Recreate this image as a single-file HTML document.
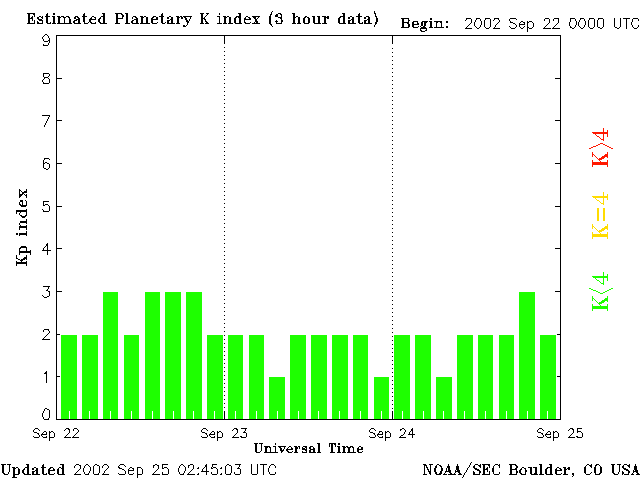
<!DOCTYPE html>
<html><head><meta charset="utf-8"><title>Estimated Planetary K index (3 hour data)</title>
<style>
html,body{margin:0;padding:0;background:#fff}
#chart{position:relative;width:640px;height:480px;overflow:hidden;background:#fff;font-family:"Liberation Sans",sans-serif}
#chart svg{display:block;position:absolute;left:0;top:0}
#chart span{position:absolute;white-space:nowrap;line-height:1;color:transparent;pointer-events:none;user-select:none}
#chart .s{font-family:"Liberation Sans",sans-serif}
#chart .t{font-family:"Liberation Serif",serif}
#chart .b{font-weight:bold}
#chart .v{transform-origin:0 0;transform:rotate(-90deg)}
</style>
</head><body><div id="chart"><svg width="640" height="480" viewBox="0 0 640 480" shape-rendering="crispEdges"><path fill="#000000" d="M272 11h1v1h-1zM374 11h1v2h-1zM271 12h1v2h-1zM27 13h8v1h-8zM47 13h1v1h-1zM53 13h2v2h-2zM84 13h1v1h-1zM102 13h3v1h-3zM115 13h7v1h-7zM125 13h3v1h-3zM162 13h1v1h-1zM200 13h4v1h-4zM206 13h3v1h-3zM219 13h1v2h-1zM238 13h3v1h-3zM278 13h3v1h-3zM292 13h3v1h-3zM342 13h3v1h-3zM359 13h1v1h-1zM374 13h2v1h-2zM28 14h2v4h-2zM33 14h2v1h-2zM46 14h2v2h-2zM83 14h2v2h-2zM103 14h2v2h-2zM116 14h2v4h-2zM121 14h2v1h-2zM126 14h2v9h-2zM161 14h2v2h-2zM201 14h2v4h-2zM207 14h1v1h-1zM239 14h2v2h-2zM270 14h2v1h-2zM276 14h2v1h-2zM280 14h2v1h-2zM293 14h2v3h-2zM343 14h2v2h-2zM358 14h2v2h-2zM375 14h1v2h-1zM34 15h1v2h-1zM122 15h2v2h-2zM206 15h1v1h-1zM270 15h1v1h-1zM275 15h3v2h-3zM281 15h1v2h-1zM32 16h1v1h-1zM39 16h2v1h-2zM42 16h1v1h-1zM45 16h5v1h-5zM52 16h3v1h-3zM57 16h3v1h-3zM61 16h3v1h-3zM66 16h3v1h-3zM75 16h3v1h-3zM82 16h5v1h-5zM92 16h2v1h-2zM101 16h4v1h-4zM133 16h3v1h-3zM140 16h3v1h-3zM144 16h2v1h-2zM153 16h3v1h-3zM159 16h5v1h-5zM169 16h2v1h-2zM176 16h3v1h-3zM180 16h2v1h-2zM183 16h9v1h-9zM205 16h1v1h-1zM217 16h3v1h-3zM223 16h3v1h-3zM227 16h2v1h-2zM236 16h5v1h-5zM246 16h2v1h-2zM252 16h8v1h-8zM269 16h2v8h-2zM296 16h2v1h-2zM305 16h2v1h-2zM312 16h3v1h-3zM317 16h3v1h-3zM322 16h4v1h-4zM327 16h2v1h-2zM340 16h5v1h-5zM350 16h2v1h-2zM356 16h6v1h-6zM366 16h3v1h-3zM375 16h2v1h-2zM31 17h2v1h-2zM37 17h2v2h-2zM41 17h2v1h-2zM46 17h2v6h-2zM53 17h2v6h-2zM58 17h3v1h-3zM63 17h3v1h-3zM68 17h2v1h-2zM74 17h2v2h-2zM77 17h2v1h-2zM83 17h2v5h-2zM91 17h1v1h-1zM94 17h2v1h-2zM100 17h1v1h-1zM103 17h2v6h-2zM122 17h1v1h-1zM132 17h1v2h-1zM135 17h2v1h-2zM141 17h3v1h-3zM146 17h2v6h-2zM152 17h2v1h-2zM156 17h2v2h-2zM161 17h2v6h-2zM167 17h2v2h-2zM171 17h2v2h-2zM177 17h3v1h-3zM181 17h2v2h-2zM184 17h2v1h-2zM190 17h1v2h-1zM204 17h1v1h-1zM219 17h1v6h-1zM224 17h3v1h-3zM229 17h2v6h-2zM235 17h2v1h-2zM238 17h3v1h-3zM245 17h1v1h-1zM248 17h2v1h-2zM253 17h3v1h-3zM258 17h1v1h-1zM278 17h4v1h-4zM293 17h3v1h-3zM298 17h2v6h-2zM304 17h2v1h-2zM307 17h2v1h-2zM313 17h2v6h-2zM318 17h2v6h-2zM324 17h5v1h-5zM339 17h2v1h-2zM343 17h2v6h-2zM348 17h2v2h-2zM352 17h2v2h-2zM358 17h2v6h-2zM364 17h2v2h-2zM368 17h2v2h-2zM376 17h1v1h-1zM28 18h5v1h-5zM42 18h1v1h-1zM58 18h2v5h-2zM64 18h1v5h-1zM69 18h1v1h-1zM78 18h2v1h-2zM90 18h2v1h-2zM95 18h1v1h-1zM99 18h2v1h-2zM116 18h7v1h-7zM136 18h2v1h-2zM141 18h2v5h-2zM151 18h2v1h-2zM177 18h2v5h-2zM185 18h2v2h-2zM201 18h4v1h-4zM224 18h2v5h-2zM234 18h2v5h-2zM239 18h2v5h-2zM244 18h2v1h-2zM249 18h2v1h-2zM254 18h2v1h-2zM257 18h1v1h-1zM280 18h2v1h-2zM293 18h2v5h-2zM303 18h2v5h-2zM308 18h2v5h-2zM324 18h2v5h-2zM327 18h2v1h-2zM338 18h2v5h-2zM376 18h2v4h-2zM401 18h8v1h-8zM430 18h2v2h-2zM466 18h5v1h-5zM476 18h4v1h-4zM485 18h5v1h-5zM494 18h5v1h-5zM510 18h6v1h-6zM545 18h4v1h-4zM554 18h5v1h-5zM570 18h5v1h-5zM580 18h4v1h-4zM589 18h5v1h-5zM598 18h5v1h-5zM614 18h1v9h-1zM620 18h1v9h-1zM623 18h7v1h-7zM633 18h5v1h-5zM28 19h2v4h-2zM32 19h1v2h-1zM38 19h4v1h-4zM69 19h2v4h-2zM76 19h4v1h-4zM89 19h7v1h-7zM98 19h2v3h-2zM116 19h2v4h-2zM134 19h4v1h-4zM151 19h7v1h-7zM170 19h3v1h-3zM189 19h1v2h-1zM201 19h2v4h-2zM204 19h2v1h-2zM244 19h7v1h-7zM255 19h2v2h-2zM281 19h1v1h-1zM351 19h3v1h-3zM367 19h3v1h-3zM402 19h2v3h-2zM408 19h1v1h-1zM466 19h1v1h-1zM471 19h1v4h-1zM476 19h1v1h-1zM480 19h1v2h-1zM485 19h1v1h-1zM490 19h1v8h-1zM494 19h1v1h-1zM498 19h1v1h-1zM509 19h1v2h-1zM516 19h1v1h-1zM544 19h1v2h-1zM549 19h1v4h-1zM553 19h1v2h-1zM558 19h1v4h-1zM570 19h1v3h-1zM575 19h1v2h-1zM580 19h1v1h-1zM584 19h1v2h-1zM589 19h1v1h-1zM594 19h1v8h-1zM598 19h1v1h-1zM603 19h1v8h-1zM626 19h1v10h-1zM632 19h1v3h-1zM638 19h1v2h-1zM34 20h1v3h-1zM39 20h4v1h-4zM74 20h3v1h-3zM78 20h2v3h-2zM89 20h2v2h-2zM132 20h2v1h-2zM136 20h2v3h-2zM151 20h2v3h-2zM167 20h3v1h-3zM171 20h2v3h-2zM186 20h2v1h-2zM205 20h1v1h-1zM244 20h1v2h-1zM276 20h1v1h-1zM281 20h2v2h-2zM348 20h3v1h-3zM352 20h2v3h-2zM364 20h3v1h-3zM368 20h2v3h-2zM408 20h2v1h-2zM465 20h1v1h-1zM475 20h1v2h-1zM484 20h1v7h-1zM493 20h1v1h-1zM499 20h1v2h-1zM579 20h1v2h-1zM588 20h1v7h-1zM597 20h1v7h-1zM37 21h1v1h-1zM42 21h1v2h-1zM73 21h2v2h-2zM131 21h2v2h-2zM167 21h2v2h-2zM186 21h3v1h-3zM205 21h2v1h-2zM255 21h3v1h-3zM275 21h3v1h-3zM348 21h2v2h-2zM364 21h2v2h-2zM408 21h1v1h-1zM413 21h5v1h-5zM422 21h6v1h-6zM429 21h3v1h-3zM434 21h8v1h-8zM446 21h2v2h-2zM481 21h1v4h-1zM510 21h1v1h-1zM521 21h2v1h-2zM527 21h1v1h-1zM529 21h3v1h-3zM576 21h1v4h-1zM585 21h1v4h-1zM37 22h2v1h-2zM50 22h1v1h-1zM84 22h1v1h-1zM88 22h1v1h-1zM90 22h2v1h-2zM95 22h1v1h-1zM99 22h2v1h-2zM157 22h1v1h-1zM165 22h1v1h-1zM187 22h2v1h-2zM206 22h2v1h-2zM244 22h2v1h-2zM250 22h1v1h-1zM254 22h1v1h-1zM256 22h2v1h-2zM276 22h1v1h-1zM281 22h1v1h-1zM362 22h1v1h-1zM375 22h2v2h-2zM402 22h7v1h-7zM412 22h2v2h-2zM417 22h1v1h-1zM421 22h2v4h-2zM424 22h3v1h-3zM430 22h2v5h-2zM436 22h2v1h-2zM440 22h2v1h-2zM474 22h1v4h-1zM498 22h1v1h-1zM510 22h3v1h-3zM520 22h1v1h-1zM523 22h2v1h-2zM527 22h2v1h-2zM532 22h1v1h-1zM569 22h1v4h-1zM578 22h1v4h-1zM631 22h1v3h-1zM27 23h8v1h-8zM37 23h6v1h-6zM47 23h4v1h-4zM52 23h4v1h-4zM57 23h15v1h-15zM74 23h7v1h-7zM84 23h4v1h-4zM91 23h5v1h-5zM100 23h7v1h-7zM115 23h5v1h-5zM125 23h5v1h-5zM132 23h7v1h-7zM140 23h10v1h-10zM152 23h5v1h-5zM162 23h3v1h-3zM167 23h8v1h-8zM176 23h4v1h-4zM187 23h1v2h-1zM200 23h4v1h-4zM205 23h4v1h-4zM217 23h5v1h-5zM223 23h4v1h-4zM228 23h5v1h-5zM235 23h7v1h-7zM245 23h5v1h-5zM252 23h8v1h-8zM276 23h6v1h-6zM292 23h4v1h-4zM297 23h4v1h-4zM304 23h5v1h-5zM314 23h7v1h-7zM322 23h5v1h-5zM339 23h7v1h-7zM348 23h8v1h-8zM359 23h4v1h-4zM364 23h8v1h-8zM402 23h2v4h-2zM407 23h2v1h-2zM417 23h2v1h-2zM424 23h2v3h-2zM436 23h1v4h-1zM441 23h1v4h-1zM470 23h1v1h-1zM497 23h1v1h-1zM513 23h2v1h-2zM519 23h1v1h-1zM524 23h1v1h-1zM527 23h1v4h-1zM533 23h1v4h-1zM548 23h1v1h-1zM557 23h1v1h-1zM270 24h2v1h-2zM375 24h1v1h-1zM408 24h2v3h-2zM412 24h7v1h-7zM469 24h1v1h-1zM496 24h1v1h-1zM515 24h1v1h-1zM519 24h6v1h-6zM547 24h1v1h-1zM556 24h1v1h-1zM183 25h2v1h-2zM186 25h1v1h-1zM271 25h1v1h-1zM374 25h1v2h-1zM412 25h2v2h-2zM468 25h1v1h-1zM480 25h1v2h-1zM495 25h1v2h-1zM516 25h1v2h-1zM519 25h1v2h-1zM546 25h1v1h-1zM555 25h1v1h-1zM575 25h1v2h-1zM584 25h1v2h-1zM632 25h1v2h-1zM638 25h1v2h-1zM183 26h3v1h-3zM272 26h1v1h-1zM418 26h1v1h-1zM420 26h1v1h-1zM423 26h2v1h-2zM446 26h2v2h-2zM467 26h1v1h-1zM475 26h1v1h-1zM509 26h1v1h-1zM524 26h1v1h-1zM545 26h1v1h-1zM554 26h1v1h-1zM570 26h1v1h-1zM579 26h1v1h-1zM401 27h8v1h-8zM413 27h5v1h-5zM421 27h5v1h-5zM429 27h4v1h-4zM434 27h10v1h-10zM466 27h1v1h-1zM476 27h1v1h-1zM479 27h1v1h-1zM485 27h1v1h-1zM489 27h1v1h-1zM494 27h1v1h-1zM510 27h1v1h-1zM515 27h1v1h-1zM520 27h1v1h-1zM523 27h1v1h-1zM527 27h2v1h-2zM532 27h1v1h-1zM544 27h1v1h-1zM553 27h1v1h-1zM570 27h2v1h-2zM574 27h1v1h-1zM580 27h1v1h-1zM583 27h1v1h-1zM589 27h1v1h-1zM593 27h1v1h-1zM598 27h2v1h-2zM602 27h1v1h-1zM615 27h2v1h-2zM619 27h1v1h-1zM633 27h1v1h-1zM637 27h1v1h-1zM420 28h7v1h-7zM465 28h7v1h-7zM477 28h2v1h-2zM486 28h3v1h-3zM493 28h7v1h-7zM511 28h4v1h-4zM521 28h2v1h-2zM527 28h1v4h-1zM529 28h3v1h-3zM543 28h8v1h-8zM552 28h8v1h-8zM572 28h2v1h-2zM581 28h2v1h-2zM590 28h3v1h-3zM600 28h2v1h-2zM617 28h2v1h-2zM634 28h3v1h-3zM420 29h1v1h-1zM426 29h1v1h-1zM420 30h2v1h-2zM425 30h2v1h-2zM421 31h4v1h-4zM45 34h2v1h-2zM44 35h1v1h-1zM47 35h1v1h-1zM56 35h505v1h-505zM43 36h1v1h-1zM48 36h1v2h-1zM56 36h1v42h-1zM224 36h1v8h-1zM392 36h1v8h-1zM560 36h1v42h-1zM42 37h1v2h-1zM49 38h1v2h-1zM43 39h1v2h-1zM48 40h2v1h-2zM44 41h4v1h-4zM49 41h1v2h-1zM48 43h1v2h-1zM43 44h1v1h-1zM43 45h5v1h-5zM224 47h1v1h-1zM392 48h1v1h-1zM224 51h1v1h-1zM392 52h1v1h-1zM224 55h1v1h-1zM392 56h1v1h-1zM224 59h1v1h-1zM392 60h1v1h-1zM224 63h1v1h-1zM392 64h1v1h-1zM224 67h1v1h-1zM392 68h1v1h-1zM224 71h1v1h-1zM392 72h1v1h-1zM43 73h6v1h-6zM43 74h1v3h-1zM49 74h1v2h-1zM224 75h1v1h-1zM48 76h1v1h-1zM392 76h1v1h-1zM44 77h4v1h-4zM44 78h1v1h-1zM48 78h1v1h-1zM56 78h6v1h-6zM555 78h6v1h-6zM43 79h1v1h-1zM49 79h1v4h-1zM56 79h1v41h-1zM224 79h1v1h-1zM560 79h1v41h-1zM42 80h1v2h-1zM392 80h1v1h-1zM43 82h1v1h-1zM43 83h6v1h-6zM224 83h1v1h-1zM392 84h1v1h-1zM224 87h1v1h-1zM392 88h1v1h-1zM224 91h1v1h-1zM392 92h1v1h-1zM224 95h1v1h-1zM392 96h1v1h-1zM224 99h1v1h-1zM392 100h1v1h-1zM224 103h1v1h-1zM392 104h1v1h-1zM224 107h1v1h-1zM392 108h1v1h-1zM224 111h1v1h-1zM392 112h1v1h-1zM42 115h8v1h-8zM224 115h1v1h-1zM49 116h1v1h-1zM392 116h1v1h-1zM48 117h1v2h-1zM47 119h1v2h-1zM224 119h1v1h-1zM56 120h6v1h-6zM392 120h1v1h-1zM555 120h6v1h-6zM46 121h1v2h-1zM56 121h1v42h-1zM560 121h1v42h-1zM45 123h1v2h-1zM224 123h1v1h-1zM392 124h1v1h-1zM44 125h1v2h-1zM224 127h1v1h-1zM392 128h1v1h-1zM224 131h1v1h-1zM392 132h1v1h-1zM224 135h1v1h-1zM392 136h1v1h-1zM224 139h1v1h-1zM392 140h1v1h-1zM224 143h1v1h-1zM392 144h1v1h-1zM224 147h1v1h-1zM392 148h1v1h-1zM224 151h1v1h-1zM392 152h1v1h-1zM224 155h1v1h-1zM392 156h1v1h-1zM44 158h5v1h-5zM44 159h1v1h-1zM49 159h1v1h-1zM224 159h1v1h-1zM43 160h1v3h-1zM392 160h1v1h-1zM45 162h2v1h-2zM43 163h2v1h-2zM47 163h2v1h-2zM56 163h6v1h-6zM224 163h1v1h-1zM555 163h6v1h-6zM43 164h1v4h-1zM49 164h1v4h-1zM56 164h1v42h-1zM392 164h1v1h-1zM560 164h1v42h-1zM224 167h1v1h-1zM44 168h2v1h-2zM48 168h1v1h-1zM392 168h1v1h-1zM46 169h2v1h-2zM224 171h1v1h-1zM392 172h1v1h-1zM224 175h1v1h-1zM392 176h1v1h-1zM224 179h1v1h-1zM392 180h1v1h-1zM224 183h1v1h-1zM392 184h1v1h-1zM224 187h1v1h-1zM392 188h1v1h-1zM19 189h1v1h-1zM26 189h1v2h-1zM19 190h2v1h-2zM19 191h1v3h-1zM21 191h1v1h-1zM24 191h3v1h-3zM224 191h1v1h-1zM22 192h5v1h-5zM392 192h1v1h-1zM22 193h2v1h-2zM19 194h4v1h-4zM24 194h1v1h-1zM26 194h1v1h-1zM19 195h3v1h-3zM25 195h2v1h-2zM224 195h1v1h-1zM19 196h2v1h-2zM26 196h1v2h-1zM392 196h1v1h-1zM19 197h1v1h-1zM224 199h1v1h-1zM20 200h3v2h-3zM25 200h1v1h-1zM392 200h1v1h-1zM26 201h1v4h-1zM43 201h6v1h-6zM19 202h1v2h-1zM22 202h1v3h-1zM43 202h1v3h-1zM224 203h1v1h-1zM19 204h2v1h-2zM45 204h3v1h-3zM392 204h1v1h-1zM20 205h7v1h-7zM43 205h2v1h-2zM48 205h1v1h-1zM21 206h5v1h-5zM49 206h1v5h-1zM56 206h6v1h-6zM555 206h6v1h-6zM56 207h1v41h-1zM224 207h1v1h-1zM560 207h1v41h-1zM392 208h1v1h-1zM26 209h1v1h-1zM42 209h1v1h-1zM16 210h11v2h-11zM43 210h1v1h-1zM43 211h6v1h-6zM224 211h1v1h-1zM16 212h1v2h-1zM20 212h1v1h-1zM26 212h1v3h-1zM392 212h1v1h-1zM19 213h1v2h-1zM20 215h2v1h-2zM25 215h2v1h-2zM224 215h1v1h-1zM21 216h5v1h-5zM392 216h1v1h-1zM22 217h3v1h-3zM26 219h1v2h-1zM224 219h1v1h-1zM392 220h1v1h-1zM20 221h7v2h-7zM19 223h1v2h-1zM26 223h1v1h-1zM224 223h1v1h-1zM392 224h1v1h-1zM20 225h1v1h-1zM26 225h1v1h-1zM19 226h8v2h-8zM224 227h1v1h-1zM19 228h1v2h-1zM26 228h1v2h-1zM392 228h1v1h-1zM26 231h1v2h-1zM224 231h1v1h-1zM392 232h1v1h-1zM16 233h2v2h-2zM19 233h8v2h-8zM19 235h1v1h-1zM26 235h1v1h-1zM224 235h1v1h-1zM392 236h1v1h-1zM224 239h1v1h-1zM392 240h1v1h-1zM47 243h1v1h-1zM224 243h1v1h-1zM46 244h2v2h-2zM392 244h1v1h-1zM21 246h5v1h-5zM45 246h1v1h-1zM47 246h1v4h-1zM20 247h7v1h-7zM44 247h1v1h-1zM224 247h1v1h-1zM19 248h2v1h-2zM26 248h1v3h-1zM43 248h1v2h-1zM56 248h6v1h-6zM392 248h1v1h-1zM555 248h6v1h-6zM19 249h1v2h-1zM56 249h1v42h-1zM560 249h1v42h-1zM30 250h1v1h-1zM42 250h9v1h-9zM19 251h12v2h-12zM47 251h1v4h-1zM224 251h1v1h-1zM392 252h1v1h-1zM19 253h1v2h-1zM30 253h1v2h-1zM16 255h1v3h-1zM26 255h1v2h-1zM224 255h1v1h-1zM392 256h1v1h-1zM24 257h3v1h-3zM16 258h2v1h-2zM23 258h4v1h-4zM18 259h2v1h-2zM21 259h4v1h-4zM26 259h1v1h-1zM224 259h1v1h-1zM20 260h3v1h-3zM392 260h1v1h-1zM16 261h1v1h-1zM21 261h1v1h-1zM26 261h1v1h-1zM16 262h11v2h-11zM224 263h1v1h-1zM16 264h1v2h-1zM26 264h1v2h-1zM392 264h1v1h-1zM224 267h1v1h-1zM392 268h1v1h-1zM224 271h1v1h-1zM392 272h1v1h-1zM224 275h1v1h-1zM392 276h1v1h-1zM224 279h1v1h-1zM392 280h1v1h-1zM224 283h1v1h-1zM392 284h1v1h-1zM43 286h7v1h-7zM48 287h1v2h-1zM224 287h1v1h-1zM392 288h1v1h-1zM47 289h1v1h-1zM46 290h2v1h-2zM48 291h2v1h-2zM56 291h6v1h-6zM224 291h1v1h-1zM555 291h6v1h-6zM49 292h1v4h-1zM56 292h1v42h-1zM392 292h1v1h-1zM560 292h1v42h-1zM42 295h1v1h-1zM224 295h1v1h-1zM43 296h1v1h-1zM47 296h2v1h-2zM392 296h1v1h-1zM44 297h3v1h-3zM224 299h1v1h-1zM392 300h1v1h-1zM224 303h1v1h-1zM392 304h1v1h-1zM224 307h1v1h-1zM392 308h1v1h-1zM224 311h1v1h-1zM392 312h1v1h-1zM224 315h1v1h-1zM392 316h1v1h-1zM224 319h1v1h-1zM392 320h1v1h-1zM224 323h1v1h-1zM392 324h1v1h-1zM224 327h1v1h-1zM392 328h1v1h-1zM44 329h5v1h-5zM43 330h1v2h-1zM48 330h1v1h-1zM49 331h1v2h-1zM224 331h1v1h-1zM392 332h1v1h-1zM48 333h1v1h-1zM47 334h1v1h-1zM56 334h4v1h-4zM557 334h4v1h-4zM46 335h1v1h-1zM56 335h1v41h-1zM224 335h1v1h-1zM560 335h1v41h-1zM45 336h1v1h-1zM392 336h1v1h-1zM44 337h1v1h-1zM43 338h1v1h-1zM42 339h8v1h-8zM224 339h1v1h-1zM392 340h1v1h-1zM224 343h1v1h-1zM392 344h1v1h-1zM224 347h1v1h-1zM392 348h1v1h-1zM224 351h1v1h-1zM392 352h1v1h-1zM224 355h1v1h-1zM392 356h1v1h-1zM224 359h1v1h-1zM392 360h1v1h-1zM224 363h1v1h-1zM392 364h1v1h-1zM224 367h1v1h-1zM392 368h1v1h-1zM46 371h1v1h-1zM224 371h1v1h-1zM45 372h2v1h-2zM392 372h1v1h-1zM44 373h3v1h-3zM46 374h1v9h-1zM224 375h1v1h-1zM56 376h4v1h-4zM392 376h1v1h-1zM557 376h4v1h-4zM56 377h1v42h-1zM560 377h1v42h-1zM224 379h1v1h-1zM392 380h1v1h-1zM224 383h1v1h-1zM392 384h1v1h-1zM224 387h1v1h-1zM392 388h1v1h-1zM224 391h1v1h-1zM392 392h1v1h-1zM224 395h1v1h-1zM392 396h1v1h-1zM224 399h1v1h-1zM392 400h1v1h-1zM224 403h1v1h-1zM392 404h1v1h-1zM224 407h1v1h-1zM45 408h2v1h-2zM392 408h1v1h-1zM44 409h1v2h-1zM47 409h2v1h-2zM49 410h1v8h-1zM43 411h1v2h-1zM224 411h1v8h-1zM392 411h1v8h-1zM42 413h1v4h-1zM43 417h1v2h-1zM48 418h1v1h-1zM44 419h5v1h-5zM56 419h505v1h-505zM35 428h3v1h-3zM66 428h3v1h-3zM74 428h3v1h-3zM203 428h3v1h-3zM234 428h3v1h-3zM241 428h6v1h-6zM371 428h3v1h-3zM402 428h2v1h-2zM412 428h1v1h-1zM539 428h3v1h-3zM570 428h3v1h-3zM577 428h5v1h-5zM34 429h1v1h-1zM38 429h1v1h-1zM65 429h1v1h-1zM68 429h2v1h-2zM73 429h1v2h-1zM77 429h1v1h-1zM202 429h1v1h-1zM206 429h1v1h-1zM233 429h1v1h-1zM236 429h2v1h-2zM245 429h1v2h-1zM370 429h1v1h-1zM374 429h1v1h-1zM400 429h2v1h-2zM404 429h1v1h-1zM411 429h2v2h-2zM538 429h1v1h-1zM542 429h1v1h-1zM569 429h1v1h-1zM572 429h2v1h-2zM577 429h1v2h-1zM33 430h1v2h-1zM39 430h1v1h-1zM64 430h1v1h-1zM69 430h1v3h-1zM78 430h1v2h-1zM201 430h1v2h-1zM207 430h1v1h-1zM232 430h1v1h-1zM237 430h1v3h-1zM369 430h1v2h-1zM375 430h1v1h-1zM400 430h1v1h-1zM405 430h1v2h-1zM537 430h1v2h-1zM543 430h1v1h-1zM568 430h1v1h-1zM573 430h1v3h-1zM44 431h2v1h-2zM49 431h1v1h-1zM51 431h2v1h-2zM212 431h2v1h-2zM217 431h1v1h-1zM219 431h2v1h-2zM244 431h1v1h-1zM379 431h3v1h-3zM385 431h1v1h-1zM387 431h2v1h-2zM410 431h1v1h-1zM412 431h1v3h-1zM548 431h2v1h-2zM553 431h1v1h-1zM555 431h2v1h-2zM577 431h4v1h-4zM34 432h3v1h-3zM43 432h1v1h-1zM46 432h1v2h-1zM49 432h2v1h-2zM53 432h1v1h-1zM77 432h1v1h-1zM202 432h3v1h-3zM211 432h1v1h-1zM214 432h1v2h-1zM217 432h2v1h-2zM221 432h1v1h-1zM243 432h3v1h-3zM370 432h3v1h-3zM379 432h1v1h-1zM382 432h1v2h-1zM385 432h2v1h-2zM389 432h1v1h-1zM404 432h1v2h-1zM409 432h1v2h-1zM538 432h3v1h-3zM547 432h1v1h-1zM550 432h1v2h-1zM553 432h2v1h-2zM557 432h1v1h-1zM577 432h1v1h-1zM581 432h1v1h-1zM37 433h2v1h-2zM42 433h1v1h-1zM49 433h1v4h-1zM54 433h1v4h-1zM68 433h1v1h-1zM76 433h1v1h-1zM205 433h2v1h-2zM210 433h1v1h-1zM217 433h1v4h-1zM222 433h1v4h-1zM236 433h1v1h-1zM246 433h1v4h-1zM373 433h2v1h-2zM378 433h1v1h-1zM385 433h1v4h-1zM390 433h1v4h-1zM541 433h2v1h-2zM546 433h1v1h-1zM553 433h1v4h-1zM558 433h1v4h-1zM572 433h1v1h-1zM582 433h1v4h-1zM38 434h1v1h-1zM41 434h6v1h-6zM67 434h1v1h-1zM75 434h1v1h-1zM206 434h1v1h-1zM209 434h6v1h-6zM235 434h1v1h-1zM374 434h1v1h-1zM377 434h6v1h-6zM403 434h1v1h-1zM408 434h7v1h-7zM542 434h1v1h-1zM545 434h6v1h-6zM571 434h1v1h-1zM39 435h1v2h-1zM41 435h1v1h-1zM66 435h1v1h-1zM74 435h1v1h-1zM207 435h1v2h-1zM209 435h1v1h-1zM234 435h1v1h-1zM375 435h1v2h-1zM377 435h1v1h-1zM401 435h2v1h-2zM412 435h1v3h-1zM543 435h1v2h-1zM545 435h1v1h-1zM570 435h1v1h-1zM33 436h1v1h-1zM42 436h1v1h-1zM46 436h1v1h-1zM65 436h1v1h-1zM73 436h1v1h-1zM201 436h1v1h-1zM210 436h1v1h-1zM214 436h1v1h-1zM233 436h1v1h-1zM240 436h2v1h-2zM369 436h1v1h-1zM378 436h1v1h-1zM382 436h1v1h-1zM400 436h1v1h-1zM537 436h1v1h-1zM546 436h1v1h-1zM550 436h1v1h-1zM569 436h1v1h-1zM576 436h2v1h-2zM34 437h5v1h-5zM43 437h4v1h-4zM49 437h5v1h-5zM64 437h7v1h-7zM72 437h7v1h-7zM202 437h5v1h-5zM211 437h4v1h-4zM217 437h5v1h-5zM232 437h7v1h-7zM241 437h5v1h-5zM370 437h5v1h-5zM379 437h4v1h-4zM385 437h5v1h-5zM399 437h7v1h-7zM538 437h5v1h-5zM547 437h4v1h-4zM553 437h5v1h-5zM568 437h7v1h-7zM577 437h5v1h-5zM49 438h1v3h-1zM217 438h1v3h-1zM385 438h1v3h-1zM553 438h1v3h-1zM254 443h4v1h-4zM259 443h4v1h-4zM275 443h1v2h-1zM317 443h3v1h-3zM329 443h7v1h-7zM338 443h2v2h-2zM255 444h2v8h-2zM261 444h1v7h-1zM318 444h2v8h-2zM329 444h1v3h-1zM331 444h2v8h-2zM334 444h2v1h-2zM335 445h1v2h-1zM264 446h6v1h-6zM273 446h3v1h-3zM278 446h8v1h-8zM289 446h2v1h-2zM294 446h3v1h-3zM298 446h2v1h-2zM303 446h4v1h-4zM310 446h3v1h-3zM337 446h3v1h-3zM342 446h3v1h-3zM346 446h2v1h-2zM350 446h3v1h-3zM359 446h2v1h-2zM265 447h3v1h-3zM269 447h2v1h-2zM275 447h1v5h-1zM279 447h2v1h-2zM284 447h1v2h-1zM288 447h1v1h-1zM291 447h1v1h-1zM295 447h3v2h-3zM299 447h1v2h-1zM302 447h1v1h-1zM305 447h2v1h-2zM309 447h2v2h-2zM313 447h1v1h-1zM338 447h2v5h-2zM343 447h3v1h-3zM347 447h4v1h-4zM352 447h2v1h-2zM358 447h1v1h-1zM361 447h2v2h-2zM265 448h2v4h-2zM270 448h1v4h-1zM280 448h2v2h-2zM287 448h1v1h-1zM291 448h2v1h-2zM302 448h3v1h-3zM306 448h1v1h-1zM313 448h2v1h-2zM343 448h2v4h-2zM348 448h2v4h-2zM353 448h1v4h-1zM357 448h2v1h-2zM283 449h1v1h-1zM286 449h7v1h-7zM295 449h2v3h-2zM302 449h5v1h-5zM310 449h5v1h-5zM357 449h6v1h-6zM280 450h4v1h-4zM286 450h2v1h-2zM305 450h2v1h-2zM309 450h2v2h-2zM313 450h2v2h-2zM357 450h2v2h-2zM260 451h1v1h-1zM281 451h2v1h-2zM287 451h2v1h-2zM292 451h1v1h-1zM302 451h1v1h-1zM306 451h1v1h-1zM362 451h1v1h-1zM256 452h4v1h-4zM264 452h14v1h-14zM281 452h1v1h-1zM288 452h4v1h-4zM294 452h4v1h-4zM302 452h5v1h-5zM309 452h7v1h-7zM317 452h4v1h-4zM330 452h5v1h-5zM337 452h4v1h-4zM342 452h4v1h-4zM347 452h9v1h-9zM358 452h4v1h-4zM471 462h1v1h-1zM470 463h1v2h-1zM1 464h5v1h-5zM7 464h4v1h-4zM26 464h3v1h-3zM43 464h1v1h-1zM60 464h4v1h-4zM76 464h3v1h-3zM86 464h2v1h-2zM95 464h2v1h-2zM104 464h3v1h-3zM120 464h4v1h-4zM155 464h2v1h-2zM162 464h6v1h-6zM181 464h2v1h-2zM190 464h3v1h-3zM206 464h1v1h-1zM212 464h5v1h-5zM227 464h2v1h-2zM235 464h6v1h-6zM251 464h1v10h-1zM257 464h1v10h-1zM260 464h7v1h-7zM271 464h3v1h-3zM423 464h3v1h-3zM429 464h4v1h-4zM437 464h2v1h-2zM448 464h1v2h-1zM457 464h1v2h-1zM475 464h3v1h-3zM480 464h1v1h-1zM482 464h8v1h-8zM495 464h3v1h-3zM499 464h1v1h-1zM509 464h7v1h-7zM539 464h3v1h-3zM549 464h3v1h-3zM587 464h2v1h-2zM591 464h1v1h-1zM596 464h3v1h-3zM611 464h4v1h-4zM617 464h4v1h-4zM624 464h3v1h-3zM629 464h1v1h-1zM635 464h1v2h-1zM2 465h2v8h-2zM9 465h1v7h-1zM27 465h2v2h-2zM42 465h2v2h-2zM62 465h2v3h-2zM75 465h1v1h-1zM79 465h2v1h-2zM85 465h1v1h-1zM88 465h1v1h-1zM94 465h1v1h-1zM97 465h2v1h-2zM103 465h1v1h-1zM107 465h1v1h-1zM119 465h1v1h-1zM124 465h1v1h-1zM153 465h2v1h-2zM157 465h2v1h-2zM162 465h1v3h-1zM180 465h1v1h-1zM183 465h1v1h-1zM188 465h2v1h-2zM193 465h1v4h-1zM205 465h2v2h-2zM212 465h1v2h-1zM226 465h1v1h-1zM229 465h2v1h-2zM239 465h1v2h-1zM263 465h1v10h-1zM270 465h1v1h-1zM274 465h1v1h-1zM424 465h3v1h-3zM430 465h1v6h-1zM436 465h1v1h-1zM439 465h2v1h-2zM469 465h1v2h-1zM474 465h1v1h-1zM478 465h3v1h-3zM483 465h2v4h-2zM488 465h2v1h-2zM494 465h1v1h-1zM498 465h2v1h-2zM510 465h2v4h-2zM515 465h2v1h-2zM540 465h2v9h-2zM550 465h2v2h-2zM586 465h1v1h-1zM589 465h3v1h-3zM595 465h2v1h-2zM599 465h1v1h-1zM612 465h2v8h-2zM619 465h1v7h-1zM623 465h1v1h-1zM627 465h3v1h-3zM74 466h1v2h-1zM80 466h1v3h-1zM84 466h1v2h-1zM89 466h1v1h-1zM93 466h1v8h-1zM99 466h1v7h-1zM102 466h1v2h-1zM108 466h1v2h-1zM118 466h1v1h-1zM125 466h1v1h-1zM153 466h1v2h-1zM158 466h1v3h-1zM179 466h1v2h-1zM184 466h1v1h-1zM188 466h1v2h-1zM225 466h1v8h-1zM231 466h1v7h-1zM269 466h1v2h-1zM275 466h1v2h-1zM424 466h1v8h-1zM426 466h1v1h-1zM435 466h2v2h-2zM440 466h2v1h-2zM447 466h3v2h-3zM456 466h3v4h-3zM473 466h2v2h-2zM479 466h2v1h-2zM489 466h1v2h-1zM493 466h1v2h-1zM499 466h1v2h-1zM516 466h2v2h-2zM585 466h1v1h-1zM590 466h2v1h-2zM595 466h1v1h-1zM600 466h1v1h-1zM622 466h2v2h-2zM628 466h2v1h-2zM634 466h3v4h-3zM12 467h3v1h-3zM16 467h2v1h-2zM25 467h4v1h-4zM34 467h2v1h-2zM41 467h5v1h-5zM50 467h3v1h-3zM59 467h2v1h-2zM90 467h1v4h-1zM118 467h2v1h-2zM130 467h2v1h-2zM137 467h4v1h-4zM164 467h3v1h-3zM185 467h1v4h-1zM198 467h1v1h-1zM204 467h1v1h-1zM206 467h1v4h-1zM211 467h1v1h-1zM213 467h3v1h-3zM221 467h1v1h-1zM238 467h1v1h-1zM426 467h2v1h-2zM441 467h1v1h-1zM468 467h1v1h-1zM480 467h1v1h-1zM487 467h1v1h-1zM522 467h2v1h-2zM528 467h4v1h-4zM533 467h4v1h-4zM547 467h5v1h-5zM557 467h2v1h-2zM563 467h3v1h-3zM568 467h2v1h-2zM584 467h2v6h-2zM591 467h1v1h-1zM594 467h2v6h-2zM600 467h2v6h-2zM629 467h1v1h-1zM13 468h3v1h-3zM18 468h1v1h-1zM24 468h1v1h-1zM27 468h2v6h-2zM32 468h2v2h-2zM36 468h2v2h-2zM42 468h2v6h-2zM49 468h2v1h-2zM53 468h1v1h-1zM58 468h1v1h-1zM61 468h3v1h-3zM83 468h1v4h-1zM107 468h1v1h-1zM119 468h3v1h-3zM129 468h1v1h-1zM132 468h2v1h-2zM137 468h1v6h-1zM141 468h1v1h-1zM162 468h2v1h-2zM167 468h1v1h-1zM178 468h1v4h-1zM197 468h2v1h-2zM203 468h1v1h-1zM211 468h2v1h-2zM216 468h1v1h-1zM220 468h2v1h-2zM237 468h3v1h-3zM268 468h1v4h-1zM427 468h1v1h-1zM434 468h2v4h-2zM441 468h2v3h-2zM446 468h1v3h-1zM448 468h2v2h-2zM467 468h1v2h-1zM474 468h3v1h-3zM486 468h2v1h-2zM492 468h2v4h-2zM515 468h2v1h-2zM521 468h1v1h-1zM524 468h2v1h-2zM530 468h2v6h-2zM535 468h2v5h-2zM546 468h2v1h-2zM550 468h2v6h-2zM556 468h1v1h-1zM559 468h2v1h-2zM564 468h2v1h-2zM567 468h3v1h-3zM623 468h3v1h-3zM13 469h2v5h-2zM18 469h2v5h-2zM23 469h2v1h-2zM48 469h2v1h-2zM53 469h2v1h-2zM57 469h2v5h-2zM62 469h2v5h-2zM79 469h1v1h-1zM106 469h1v1h-1zM122 469h2v1h-2zM128 469h1v1h-1zM133 469h1v1h-1zM142 469h1v5h-1zM157 469h1v1h-1zM168 469h1v5h-1zM192 469h1v1h-1zM202 469h1v2h-1zM217 469h1v5h-1zM240 469h1v5h-1zM427 469h2v1h-2zM475 469h4v1h-4zM483 469h5v1h-5zM510 469h7v1h-7zM520 469h2v1h-2zM525 469h1v1h-1zM545 469h2v5h-2zM555 469h2v1h-2zM560 469h2v1h-2zM564 469h3v1h-3zM568 469h2v1h-2zM624 469h4v1h-4zM22 470h2v3h-2zM35 470h3v1h-3zM48 470h7v1h-7zM78 470h1v1h-1zM105 470h1v1h-1zM124 470h1v1h-1zM128 470h6v1h-6zM156 470h1v1h-1zM191 470h1v1h-1zM428 470h1v1h-1zM448 470h3v1h-3zM455 470h1v1h-1zM457 470h3v1h-3zM466 470h1v2h-1zM477 470h3v1h-3zM483 470h2v4h-2zM487 470h1v2h-1zM510 470h2v4h-2zM516 470h1v1h-1zM519 470h2v3h-2zM525 470h2v2h-2zM555 470h7v1h-7zM564 470h2v4h-2zM626 470h3v1h-3zM633 470h1v1h-1zM635 470h3v1h-3zM32 471h3v1h-3zM36 471h2v3h-2zM48 471h2v3h-2zM77 471h1v1h-1zM89 471h1v2h-1zM104 471h1v2h-1zM125 471h1v3h-1zM128 471h1v3h-1zM155 471h1v1h-1zM184 471h1v2h-1zM190 471h1v1h-1zM201 471h8v1h-8zM428 471h3v1h-3zM440 471h2v2h-2zM445 471h6v1h-6zM455 471h5v1h-5zM473 471h1v1h-1zM479 471h2v2h-2zM489 471h1v3h-1zM516 471h2v2h-2zM555 471h2v3h-2zM622 471h1v1h-1zM628 471h2v2h-2zM633 471h5v1h-5zM8 472h1v2h-1zM32 472h2v2h-2zM76 472h1v1h-1zM84 472h1v2h-1zM154 472h1v1h-1zM162 472h1v2h-1zM179 472h1v2h-1zM189 472h1v1h-1zM206 472h1v3h-1zM211 472h1v2h-1zM234 472h1v2h-1zM269 472h1v2h-1zM275 472h1v2h-1zM429 472h2v2h-2zM435 472h2v2h-2zM445 472h1v1h-1zM449 472h2v1h-2zM455 472h1v1h-1zM458 472h2v1h-2zM465 472h1v1h-1zM473 472h2v2h-2zM493 472h1v2h-1zM499 472h1v2h-1zM525 472h1v2h-1zM591 472h1v1h-1zM618 472h1v2h-1zM622 472h2v2h-2zM633 472h1v1h-1zM636 472h2v1h-2zM3 473h2v1h-2zM23 473h2v1h-2zM46 473h1v1h-1zM54 473h1v1h-1zM75 473h1v1h-1zM88 473h1v1h-1zM98 473h1v1h-1zM103 473h1v1h-1zM118 473h1v1h-1zM133 473h1v1h-1zM153 473h1v1h-1zM183 473h1v1h-1zM188 473h1v1h-1zM198 473h1v1h-1zM221 473h1v1h-1zM230 473h1v1h-1zM439 473h3v1h-3zM444 473h1v1h-1zM450 473h2v1h-2zM454 473h1v1h-1zM459 473h2v1h-2zM464 473h1v2h-1zM479 473h1v1h-1zM516 473h1v1h-1zM520 473h2v1h-2zM534 473h3v1h-3zM561 473h1v1h-1zM572 473h2v2h-2zM585 473h1v1h-1zM590 473h1v1h-1zM595 473h1v1h-1zM599 473h2v1h-2zM613 473h2v1h-2zM628 473h1v1h-1zM632 473h1v1h-1zM637 473h2v1h-2zM4 474h4v1h-4zM13 474h6v1h-6zM24 474h7v1h-7zM32 474h8v1h-8zM43 474h4v1h-4zM49 474h5v1h-5zM58 474h7v1h-7zM74 474h7v1h-7zM85 474h4v1h-4zM94 474h5v1h-5zM102 474h7v1h-7zM119 474h6v1h-6zM129 474h4v1h-4zM137 474h5v1h-5zM152 474h8v1h-8zM162 474h6v1h-6zM180 474h4v1h-4zM187 474h8v1h-8zM197 474h2v1h-2zM212 474h5v1h-5zM220 474h2v1h-2zM226 474h5v1h-5zM235 474h5v1h-5zM252 474h5v1h-5zM270 474h5v1h-5zM423 474h4v1h-4zM430 474h1v1h-1zM436 474h5v1h-5zM443 474h4v1h-4zM448 474h8v1h-8zM458 474h4v1h-4zM473 474h7v1h-7zM482 474h8v1h-8zM494 474h5v1h-5zM509 474h8v1h-8zM521 474h5v1h-5zM531 474h7v1h-7zM539 474h5v1h-5zM546 474h7v1h-7zM556 474h5v1h-5zM563 474h5v1h-5zM586 474h4v1h-4zM595 474h5v1h-5zM614 474h4v1h-4zM622 474h1v1h-1zM624 474h5v1h-5zM631 474h3v1h-3zM636 474h4v1h-4zM13 475h2v2h-2zM137 475h1v3h-1zM463 475h1v2h-1zM573 475h1v1h-1zM572 476h1v1h-1zM12 477h5v1h-5zM462 477h1v1h-1z"/><path fill="#1eff00" d="M603 272h1v4h-1zM607 274h1v2h-1zM592 276h16v1h-16zM593 277h15v1h-15zM595 278h1v1h-1zM603 278h1v5h-1zM607 278h1v3h-1zM596 279h1v1h-1zM597 280h2v1h-2zM599 281h1v1h-1zM600 282h1v1h-1zM601 283h3v1h-3zM603 284h1v1h-1zM589 288h2v1h-2zM611 288h2v1h-2zM591 289h2v1h-2zM609 289h2v1h-2zM593 290h3v1h-3zM607 290h2v1h-2zM596 291h2v1h-2zM605 291h2v1h-2zM103 292h15v119h-15zM145 292h15v119h-15zM165 292h16v119h-16zM186 292h16v119h-16zM519 292h16v119h-16zM598 292h2v1h-2zM603 292h2v1h-2zM600 293h3v1h-3zM592 296h1v2h-1zM607 296h1v2h-1zM592 298h2v1h-2zM605 298h3v1h-3zM592 299h1v2h-1zM594 299h1v1h-1zM604 299h4v1h-4zM595 300h1v1h-1zM602 300h6v1h-6zM596 301h1v1h-1zM601 301h4v1h-4zM607 301h1v1h-1zM597 302h1v1h-1zM599 302h5v1h-5zM598 303h4v1h-4zM592 304h1v2h-1zM599 304h1v1h-1zM607 304h1v2h-1zM600 305h1v1h-1zM592 306h16v3h-16zM592 309h1v2h-1zM607 309h1v2h-1zM61 335h16v76h-16zM82 335h16v76h-16zM124 335h15v76h-15zM207 335h16v76h-16zM228 335h15v76h-15zM249 335h15v76h-15zM290 335h16v76h-16zM311 335h16v76h-16zM332 335h16v76h-16zM353 335h15v76h-15zM394 335h16v76h-16zM415 335h16v76h-16zM457 335h16v76h-16zM478 335h15v76h-15zM499 335h15v76h-15zM540 335h16v76h-16zM269 377h16v34h-16zM374 377h15v34h-15zM436 377h16v34h-16zM61 411h8v8h-8zM70 411h7v8h-7zM82 411h7v8h-7zM90 411h8v8h-8zM103 411h7v8h-7zM111 411h7v8h-7zM124 411h7v8h-7zM132 411h7v8h-7zM145 411h7v8h-7zM153 411h7v8h-7zM165 411h8v8h-8zM174 411h7v8h-7zM186 411h7v8h-7zM194 411h8v8h-8zM207 411h7v8h-7zM215 411h8v8h-8zM228 411h7v8h-7zM236 411h7v8h-7zM249 411h7v8h-7zM257 411h7v8h-7zM269 411h8v8h-8zM278 411h7v8h-7zM290 411h8v8h-8zM299 411h7v8h-7zM311 411h7v8h-7zM319 411h8v8h-8zM332 411h7v8h-7zM340 411h8v8h-8zM353 411h7v8h-7zM361 411h7v8h-7zM374 411h7v8h-7zM382 411h7v8h-7zM394 411h8v8h-8zM403 411h7v8h-7zM415 411h8v8h-8zM424 411h7v8h-7zM436 411h7v8h-7zM444 411h8v8h-8zM457 411h7v8h-7zM465 411h8v8h-8zM478 411h7v8h-7zM486 411h7v8h-7zM499 411h7v8h-7zM507 411h7v8h-7zM519 411h8v8h-8zM528 411h7v8h-7zM540 411h7v8h-7zM548 411h8v8h-8z"/><path fill="#ff1800" d="M603 128h1v4h-1zM607 130h1v2h-1zM592 132h16v1h-16zM593 133h15v1h-15zM595 134h1v1h-1zM603 134h1v5h-1zM607 134h1v3h-1zM596 135h1v1h-1zM597 136h2v1h-2zM599 137h1v1h-1zM600 138h1v1h-1zM601 139h3v1h-3zM603 140h1v1h-1zM600 143h3v1h-3zM598 144h2v1h-2zM603 144h2v1h-2zM596 145h2v1h-2zM605 145h2v1h-2zM593 146h3v1h-3zM607 146h2v1h-2zM591 147h2v1h-2zM609 147h2v1h-2zM589 148h2v1h-2zM611 148h2v1h-2zM592 152h1v2h-1zM607 152h1v2h-1zM592 154h2v1h-2zM605 154h3v1h-3zM592 155h1v2h-1zM594 155h1v1h-1zM604 155h4v1h-4zM595 156h1v1h-1zM602 156h6v1h-6zM596 157h1v1h-1zM601 157h4v1h-4zM607 157h1v1h-1zM597 158h1v1h-1zM599 158h5v1h-5zM598 159h4v1h-4zM592 160h1v2h-1zM599 160h1v1h-1zM607 160h1v2h-1zM600 161h1v1h-1zM592 162h16v3h-16zM592 165h1v2h-1zM607 165h1v2h-1z"/><path fill="#ffdc00" d="M603 192h1v4h-1zM607 194h1v2h-1zM592 196h16v1h-16zM593 197h15v1h-15zM595 198h1v1h-1zM603 198h1v5h-1zM607 198h1v2h-1zM596 199h1v1h-1zM597 200h2v1h-2zM599 201h1v1h-1zM600 202h1v1h-1zM601 203h3v1h-3zM603 204h1v1h-1zM597 208h2v13h-2zM603 208h2v13h-2zM592 224h1v2h-1zM607 224h1v2h-1zM592 226h2v1h-2zM605 226h3v1h-3zM592 227h1v2h-1zM594 227h1v1h-1zM604 227h4v1h-4zM595 228h1v1h-1zM602 228h6v1h-6zM596 229h1v1h-1zM601 229h4v1h-4zM607 229h1v1h-1zM597 230h1v1h-1zM599 230h5v1h-5zM598 231h4v1h-4zM592 232h1v2h-1zM599 232h1v1h-1zM607 232h1v2h-1zM600 233h1v1h-1zM592 234h16v3h-16zM592 237h1v2h-1zM607 237h1v2h-1z"/></svg><span class="t b" style="left:27px;top:9px;font-size:15px">Estimated Planetary K index (3 hour data)</span><span class="t b" style="left:401px;top:14px;font-size:15px">Begin:</span><span class="s" style="left:465px;top:14px;font-size:15px">2002 Sep 22 0000 UTC</span><span class="t b" style="left:253px;top:440px;font-size:14px">Universal Time</span><span class="t b" style="left:1px;top:461px;font-size:15px">Updated</span><span class="s" style="left:74px;top:461px;font-size:15px">2002 Sep 25 02:45:03 UTC</span><span class="t b" style="left:423px;top:461px;font-size:15px">NOAA/SEC Boulder, CO USA</span><span class="s" style="left:33px;top:425px;font-size:14px">Sep 22</span><span class="s" style="left:201px;top:425px;font-size:14px">Sep 23</span><span class="s" style="left:369px;top:425px;font-size:14px">Sep 24</span><span class="s" style="left:537px;top:425px;font-size:14px">Sep 25</span><span class="s" style="left:41px;top:406px;font-size:15px">0</span><span class="s" style="left:41px;top:369px;font-size:15px">1</span><span class="s" style="left:41px;top:326px;font-size:15px">2</span><span class="s" style="left:41px;top:284px;font-size:15px">3</span><span class="s" style="left:41px;top:241px;font-size:15px">4</span><span class="s" style="left:41px;top:198px;font-size:15px">5</span><span class="s" style="left:41px;top:156px;font-size:15px">6</span><span class="s" style="left:41px;top:113px;font-size:15px">7</span><span class="s" style="left:41px;top:70px;font-size:15px">8</span><span class="s" style="left:41px;top:32px;font-size:15px">9</span><span class="t b v" style="left:12px;top:266px;font-size:16px">Kp index</span><span class="t b v" style="left:588px;top:311px;font-size:24px">K&lt;4</span><span class="t b v" style="left:588px;top:239px;font-size:24px">K=4</span><span class="t b v" style="left:588px;top:167px;font-size:24px">K&gt;4</span></div></body></html>
